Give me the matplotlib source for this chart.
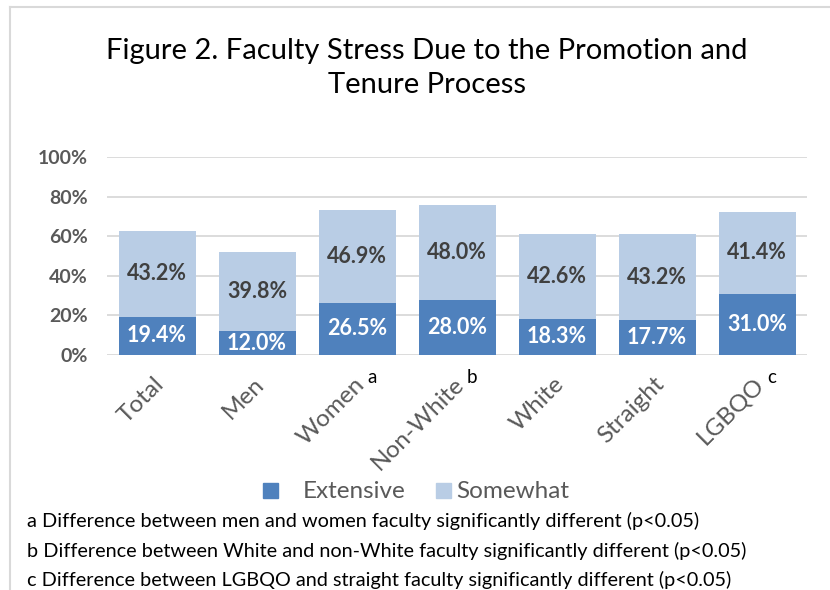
import numpy as np
import matplotlib.pyplot as plt
from matplotlib.patches import Rectangle
from matplotlib.lines import Line2D

# data
categories = ['Total', 'Men', 'Women', 'Non-White', 'White', 'Straight', 'LGBQO']
extensive = [19.4, 12.0, 26.5, 28.0, 18.3, 17.7, 31.0]
somewhat = [43.2, 39.8, 46.9, 48.0, 42.6, 43.2, 41.4]
superscripts = {'Women': 'a', 'Non-White': 'b', 'LGBQO': 'c'}
yticks = [0, 20, 40, 60, 80, 100]
footnotes = [
    'a Difference between men and women faculty significantly different (p<0.05)',
    'b Difference between White and non-White faculty significantly different (p<0.05)',
    'c Difference between LGBQO and straight faculty significantly different (p<0.05)',
]

dark = '#4F81BD'
light = '#B9CDE5'
grid = '#D9D9D9'
txt_gray = '#595959'

plt.rcParams['font.family'] = ['Lato', 'DejaVu Sans']

fig = plt.figure(figsize=(8.3, 5.9), dpi=100)
ax = fig.add_axes([107 / 830, 235 / 590, 700 / 830, 198 / 590])

x = np.arange(len(categories))
ax.bar(x, extensive, width=0.77, color=dark, zorder=3)
ax.bar(x, somewhat, width=0.77, bottom=extensive, color=light, zorder=3)

# data labels
for i in range(len(categories)):
    ax.text(x[i], extensive[i] / 2, f'{extensive[i]:.1f}%', ha='center', va='center',
            color='white', fontsize=15.5, fontweight='bold', zorder=4)
    ax.text(x[i], extensive[i] + somewhat[i] / 2, f'{somewhat[i]:.1f}%', ha='center', va='center',
            color='#404040', fontsize=15.5, fontweight='bold', zorder=4)

ax.set_xlim(-0.5, len(categories) - 0.5)
ax.set_ylim(0, 100)
ax.set_yticks(yticks)
ax.set_yticklabels([f'{v}%' for v in yticks], fontsize=14, fontweight='bold', color=txt_gray)
ax.yaxis.grid(True, color=grid, linewidth=1.3, zorder=0)
ax.tick_params(axis='y', length=0, pad=14)
ax.tick_params(axis='x', length=0)
for s in ax.spines.values():
    s.set_visible(False)

# rotated category labels
ax.set_xticks(x)
ax.set_xticklabels([])
for i, cat in enumerate(categories):
    ax.text(x[i] + 0.04, -13, cat, rotation=45, rotation_mode='anchor', ha='right', va='center',
            fontsize=17.5, color=txt_gray)
    if cat in superscripts:
        ax.text(x[i] + 0.1, -11.5, superscripts[cat], ha='left', va='center', fontsize=13.5, color='black')

# title
fig.text(427 / 830, 1 - 68 / 590, 'Figure 2. Faculty Stress Due to the Promotion and\nTenure Process',
         ha='center', va='center', fontsize=21, linespacing=1.35, color='black')

# legend drawn by hand to match the spacing
fig.add_artist(Rectangle((263 / 830, 1 - 498 / 590), 15 / 830, 15 / 590, color=dark, transform=fig.transFigure))
fig.text(303 / 830, 1 - 491 / 590, 'Extensive', ha='left', va='center', fontsize=17.5, color=txt_gray)
fig.add_artist(Rectangle((436 / 830, 1 - 498 / 590), 15 / 830, 15 / 590, color=light, transform=fig.transFigure))
fig.text(456 / 830, 1 - 491 / 590, 'Somewhat', ha='left', va='center', fontsize=17.5, color=txt_gray)

# footnotes
for k, note in enumerate(footnotes):
    fig.text(27 / 830, 1 - (521 + 29.5 * k) / 590, note, ha='left', va='center', fontsize=14.3, color='black')

# chart area border (top and left edges visible)
fig.add_artist(Line2D([10 / 830, 1], [1 - 6.5 / 590, 1 - 6.5 / 590], color=grid, linewidth=1.5))
fig.add_artist(Line2D([10 / 830, 10 / 830], [0, 1 - 6.5 / 590], color=grid, linewidth=1.5))

fig.savefig('out.png', dpi=100)
